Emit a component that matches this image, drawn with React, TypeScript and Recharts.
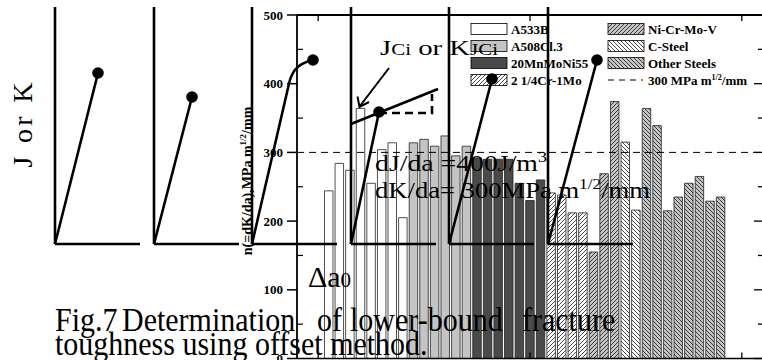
import React from 'react';
import { BarChart, Bar, XAxis, YAxis, Cell, ReferenceLine } from 'recharts';

// ---- data ----
const specimenNo = [1, 2, 3, 4, 5, 6, 7, 8, 9, 10, 11, 12, 13, 14, 15, 16, 17, 18, 19, 20, 21, 22, 23, 24, 25, 26, 27, 28, 29, 30, 31, 32, 33, 34, 35, 36, 37, 38];
const a533b = [244, 284, 274, 364, 255, 304, 314, 205];
const a508 = [314, 319, 309, 324, 295, 309];
const mnMoNi55 = [292, 290, 290, 290, 255, 230, 260];
const crMo = [241, 238, 212, 212];
const niCrMoV = [155, 269, 374];
const cSteel = [315, 216];
const otherSteels = [364, 339, 215, 235, 255, 265, 229, 235];
const materialNames = ['A533B', 'A508Cl.3', '20MnMoNi55', '2 1/4Cr-1Mo', 'Ni-Cr-Mo-V', 'C-Steel', 'Other Steels'];
const yTicks = [0, 50, 100, 150, 200, 250, 300, 350, 400, 450, 500];
const xTicks = [0, 20, 40];
const criterion = 300;

const fills = ['#ffffff', '#c4c4c4', '#4a4a4a', 'url(#fwdW)', 'url(#fwdG)', 'url(#bkW)', 'url(#bkG)'];
const groups = [a533b, a508, mnMoNi55, crMo, niCrMoV, cSteel, otherSteels];

const data: { x: number; n: number; g: number }[] = [];
{
  let k = 0;
  groups.forEach((vals, gi) => {
    vals.forEach((v) => {
      data.push({ x: specimenNo[k], n: v, g: gi });
      k += 1;
    });
  });
}

const serif = '"Liberation Serif", "Times New Roman", serif';

const LeftTick = (props: any) => {
  const { x, y, payload } = props;
  const v = payload.value;
  const major = v % 100 === 0;
  return (
    <g>
      {major ? (
        <line x1={x - 10} x2={x} y1={y} y2={y} stroke="#000" strokeWidth={1.5} />
      ) : (
        <line x1={x} x2={x + 6} y1={y} y2={y} stroke="#000" strokeWidth={1.2} />
      )}
      {major && (
        <text x={x - 14} y={y + 4.5} textAnchor="end" fontFamily={serif} fontWeight="bold" fontSize={13} fill="#000">
          {v}
        </text>
      )}
    </g>
  );
};

const RightTick = (props: any) => {
  const { x, y, payload } = props;
  const major = payload.value % 100 === 0;
  return <line x1={x - (major ? 9 : 5)} x2={x} y1={y} y2={y} stroke="#000" strokeWidth={1.3} />;
};

const BottomTick = (props: any) => {
  const { x, y } = props;
  return <line x1={x} x2={x} y1={y} y2={y - 6} stroke="#000" strokeWidth={1.3} />;
};

const TopTick = (props: any) => {
  const { x, y } = props;
  return <line x1={x} x2={x} y1={y} y2={y + 6} stroke="#000" strokeWidth={1.3} />;
};

const Patterns = () => (
  <svg width={0} height={0} style={{ position: 'absolute' }}>
    <defs>
      <pattern id="fwdW" patternUnits="userSpaceOnUse" width="4" height="4">
        <rect width="4" height="4" fill="#ffffff" />
        <path d="M-1,1 l2,-2 M0,4 l4,-4 M3,5 l2,-2" stroke="#000" strokeWidth="0.7" />
      </pattern>
      <pattern id="fwdG" patternUnits="userSpaceOnUse" width="4" height="4">
        <rect width="4" height="4" fill="#c4c4c4" />
        <path d="M-1,1 l2,-2 M0,4 l4,-4 M3,5 l2,-2" stroke="#000" strokeWidth="0.7" />
      </pattern>
      <pattern id="bkW" patternUnits="userSpaceOnUse" width="4" height="4">
        <rect width="4" height="4" fill="#ffffff" />
        <path d="M-1,3 l2,2 M0,0 l4,4 M3,-1 l2,2" stroke="#000" strokeWidth="0.7" />
      </pattern>
      <pattern id="bkG" patternUnits="userSpaceOnUse" width="4" height="4">
        <rect width="4" height="4" fill="#c4c4c4" />
        <path d="M-1,3 l2,2 M0,0 l4,4 M3,-1 l2,2" stroke="#000" strokeWidth="0.7" />
      </pattern>
    </defs>
  </svg>
);

const LegendBox = () => {
  const rows = [29, 46, 63, 80];
  const items = materialNames.map((name, i) => ({ name, fill: fills[i], col: i < 4 ? 0 : 1, row: i < 4 ? i : i - 4 }));
  const colX = [471, 608];
  return (
    <g>
      {items.map((it) => (
        <g key={it.name}>
          <rect x={colX[it.col]} y={rows[it.row] - 5.5} width={36} height={11} fill={it.fill} stroke="#000" strokeWidth={0.8} />
          <text x={colX[it.col] + 40} y={rows[it.row] + 4.5} fontFamily={serif} fontWeight="bold" fontSize={13} fill="#000">
            {it.name}
          </text>
        </g>
      ))}
      <line x1={608} x2={643} y1={rows[3]} y2={rows[3]} stroke="#000" strokeWidth={1} strokeDasharray="6 5" />
      <text x={648} y={rows[3] + 4.5} fontFamily={serif} fontWeight="bold" fontSize={13} fill="#000">
        300 MPa m<tspan fontSize={8} dy={-5}>1/2</tspan>
        <tspan dy={5}>/mm</tspan>
      </text>
    </g>
  );
};

const Sketch = () => {
  const sw = 2.6;
  const panels = [55, 154, 252, 351, 449, 548];
  const capWords: [string, number][] = [['Fig.7', 55], ['Determination', 122], ['of', 317], ['lower-bound', 350], ['fracture', 522]];
  return (
    <svg width={762} height={360} style={{ position: 'absolute', left: 0, top: 0, pointerEvents: 'none' }}>
      <LegendBox />
      {/* caption */}
      {capWords.map(([w, x]) => (
        <text key={w} transform={`translate(${x},331) scale(1,1.15)`} fontFamily={serif} fontSize={30} fill="#000">
          {w}
        </text>
      ))}
      <text transform="translate(55,355) scale(1,1.15)" fontFamily={serif} fontSize={30} fill="#000">
        toughness using offset method.
      </text>
      {/* y axis title */}
      <text
        transform="translate(252,181) rotate(-90)"
        textAnchor="middle"
        fontFamily={serif}
        fontWeight="bold"
        fontSize={14}
        fill="#000"
      >
        n(=dK/da),MPa m<tspan fontSize={9} dy={-6}>1/2</tspan>
        <tspan dy={6}>/mm</tspan>
      </text>
      {/* J or K */}
      <text transform="translate(32,125) rotate(-90)" textAnchor="middle" fontFamily={serif} fontSize={28} fill="#000" textLength={85} lengthAdjust="spacing">
        J or K
      </text>
      {/* panels */}
      {panels.map((px) => (
        <g key={px}>
          <line x1={px} x2={px} y1={7} y2={244} stroke="#000" strokeWidth={sw} />
          <line x1={px} x2={px + 85} y1={244} y2={244} stroke="#000" strokeWidth={sw} />
        </g>
      ))}
      <line x1={55} y1={244} x2={98} y2={73} stroke="#000" strokeWidth={sw} />
      <circle cx={98} cy={73} r={5.8} fill="#000" />
      <line x1={154} y1={244} x2={192} y2={97} stroke="#000" strokeWidth={sw} />
      <circle cx={192} cy={97} r={5.8} fill="#000" />
      <path d="M252,244 L288,88 C291,72 296,64 313,60" fill="none" stroke="#000" strokeWidth={sw} />
      <circle cx={313} cy={60} r={5.8} fill="#000" />
      <line x1={351} y1={244} x2={379} y2={112} stroke="#000" strokeWidth={sw} />
      <line x1={351} y1={124} x2={438} y2={89} stroke="#000" strokeWidth={sw} />
      <path d="M379,113 L432,113 L432,94" fill="none" stroke="#000" strokeWidth={sw} strokeDasharray="8 5" />
      <circle cx={379} cy={112} r={5.8} fill="#000" />
      <line x1={389} y1={68} x2={360} y2={106} stroke="#000" strokeWidth={2} />
      <polyline points="357.5,96.5 359.5,107 369,102" fill="none" stroke="#000" strokeWidth={2} />
      <line x1={449} y1={244} x2={492} y2={79} stroke="#000" strokeWidth={sw} />
      <circle cx={492} cy={79} r={5.8} fill="#000" />
      <line x1={548} y1={244} x2={597} y2={60} stroke="#000" strokeWidth={sw} />
      <circle cx={597} cy={60} r={5.8} fill="#000" />
      {/* annotations */}
      <text x={380} y={55} fontFamily={serif} fontSize={22} fill="#000" textLength={118} lengthAdjust="spacingAndGlyphs">
        J<tspan fontSize={16}>Ci</tspan> or K<tspan fontSize={16}>JCi</tspan>
      </text>
      <text x={375} y={171} fontFamily={serif} fontSize={23} fill="#000" textLength={172} lengthAdjust="spacingAndGlyphs">
        dJ/da =400J/m<tspan fontSize={15} dy={-9}>3</tspan>
      </text>
      <text x={375} y={198} fontFamily={serif} fontSize={23} fill="#000" textLength={275} lengthAdjust="spacingAndGlyphs">
        dK/da= 300MPa m<tspan fontSize={15} dy={-9}>1/2</tspan>
        <tspan dy={9}>/mm</tspan>
      </text>
      <text x={308} y={287} fontFamily={serif} fontSize={30} fill="#000">
        Δa<tspan fontSize={21}>0</tspan>
      </text>
    </svg>
  );
};

export default function App() {
  return (
    <div style={{ position: 'absolute', left: 0, top: 0, width: 762, height: 360, overflow: 'hidden', background: '#fff' }}>
      <Patterns />
      <BarChart width={764} height={400} data={data} margin={{ top: 14, right: 0, bottom: 11.5, left: 0 }}>
        <XAxis
          xAxisId="b"
          dataKey="x"
          type="number"
          domain={[-2, 42]}
          ticks={xTicks}
          height={30}
          tickSize={0}
          tickMargin={0}
          tickLine={false}
          tick={<BottomTick />}
          axisLine={{ stroke: '#000', strokeWidth: 1.5 }}
          allowDataOverflow
        />
        <XAxis
          xAxisId="t"
          orientation="top"
          dataKey="x"
          type="number"
          domain={[-2, 42]}
          ticks={xTicks}
          height={1}
          tickSize={0}
          tickMargin={0}
          tickLine={false}
          tick={<TopTick />}
          axisLine={{ stroke: '#000', strokeWidth: 2 }}
          allowDataOverflow
        />
        <YAxis
          yAxisId="l"
          domain={[0, 500]}
          ticks={yTicks}
          width={297}
          tickSize={0}
          tickMargin={0}
          tickLine={false}
          tick={<LeftTick />}
          axisLine={{ stroke: '#000', strokeWidth: 1.8 }}
          interval={0}
          allowDataOverflow
        />
        <YAxis
          yAxisId="r"
          orientation="right"
          domain={[0, 500]}
          ticks={yTicks}
          width={1}
          tickSize={0}
          tickMargin={0}
          tickLine={false}
          tick={<RightTick />}
          axisLine={{ stroke: '#000', strokeWidth: 1.8 }}
          interval={0}
          allowDataOverflow
        />
        <ReferenceLine yAxisId="l" xAxisId="b" y={criterion} stroke="#000" strokeWidth={1} strokeDasharray="7 5" />
        <Bar xAxisId="b" yAxisId="l" dataKey="n" barSize={8.5} stroke="#222" strokeWidth={0.8} isAnimationActive={false}>
          {data.map((d, i) => (
            <Cell key={i} fill={fills[d.g]} />
          ))}
        </Bar>
      </BarChart>
      <Sketch />
    </div>
  );
}
